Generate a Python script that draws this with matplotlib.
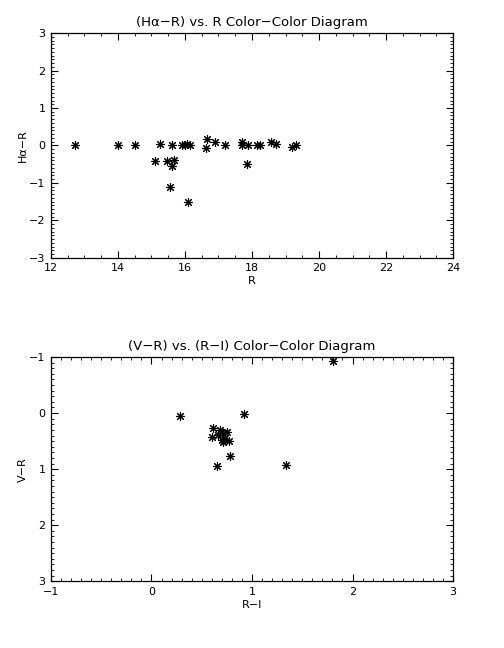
import numpy as np
import matplotlib
matplotlib.use("Agg")
import matplotlib.pyplot as plt
from matplotlib.ticker import MultipleLocator

# ── data ──────────────────────────────────────────────────────────────────────
r_mag = [12.72, 14.01, 14.51, 15.25, 15.61, 15.92, 16.00, 16.05, 16.15,
         16.67, 16.62, 15.12, 15.45, 15.68, 15.60, 15.55, 16.10,
         16.90, 17.19, 17.69, 17.69, 17.89, 18.14, 18.24, 18.57, 18.72,
         19.18, 19.30, 17.86]
ha_r = [0.02, 0.00, 0.00, 0.03, 0.00, 0.02, 0.00, 0.03, 0.00,
        0.18, -0.08, -0.41, -0.41, -0.39, -0.54, -1.10, -1.50,
        0.09, 0.01, 0.08, 0.00, 0.02, 0.00, 0.02, 0.09, 0.04,
        -0.05, 0.02, -0.50]

r_i = [0.28, 0.92, 0.65, 0.78, 1.34, 0.61, 0.60, 0.68, 0.71, 0.70,
       0.665, 0.73, 0.77, 0.71, 0.75, 1.81]
v_r = [0.05, 0.02, 0.95, 0.77, 0.93, 0.26, 0.43, 0.30, 0.36, 0.48,
       0.39, 0.45, 0.49, 0.51, 0.33, -0.93]

MARK = dict(marker=(8, 2, 0), ls="none", ms=6.5, mec="k", mfc="k", mew=0.8)

plt.rcParams["font.family"] = "DejaVu Sans"

fig = plt.figure(figsize=(5.04, 6.48), dpi=100)
ax1 = fig.add_axes([0.101, 0.602, 0.798, 0.347])
ax2 = fig.add_axes([0.101, 0.103, 0.798, 0.346])


def style(ax):
    ax.tick_params(which="both", direction="in", top=True, right=True,
                   labelsize=8, pad=4)
    ax.tick_params(which="major", length=5, width=0.8)
    ax.tick_params(which="minor", length=2.5, width=0.6)
    for s in ax.spines.values():
        s.set_linewidth(0.9)


# ── top: Hα−R vs R ────────────────────────────────────────────────────────────
ax1.plot(r_mag, ha_r, **MARK)
ax1.set_xlim(12, 24)
ax1.set_ylim(-3, 3)
ax1.xaxis.set_major_locator(MultipleLocator(2))
ax1.xaxis.set_minor_locator(MultipleLocator(0.5))
ax1.yaxis.set_major_locator(MultipleLocator(1))
ax1.yaxis.set_minor_locator(MultipleLocator(0.1))
ax1.set_title("(Hα−R) vs. R Color−Color Diagram", fontsize=9.5, pad=5)
ax1.set_xlabel("R", fontsize=8, labelpad=2)
ax1.set_ylabel("Hα−R", fontsize=8, labelpad=1)
style(ax1)

# ── bottom: V−R vs R−I ────────────────────────────────────────────────────────
ax2.plot(r_i, v_r, **MARK)
ax2.set_xlim(-1, 3)
ax2.set_ylim(3, -1)
ax2.xaxis.set_major_locator(MultipleLocator(1))
ax2.xaxis.set_minor_locator(MultipleLocator(0.1))
ax2.yaxis.set_major_locator(MultipleLocator(1))
ax2.yaxis.set_minor_locator(MultipleLocator(0.1))
ax2.set_title("(V−R) vs. (R−I) Color−Color Diagram", fontsize=9.5, pad=5)
ax2.set_xlabel("R−I", fontsize=8, labelpad=2)
ax2.set_ylabel("V−R", fontsize=8, labelpad=1)
style(ax2)

fig.savefig("out.png", dpi=100)
